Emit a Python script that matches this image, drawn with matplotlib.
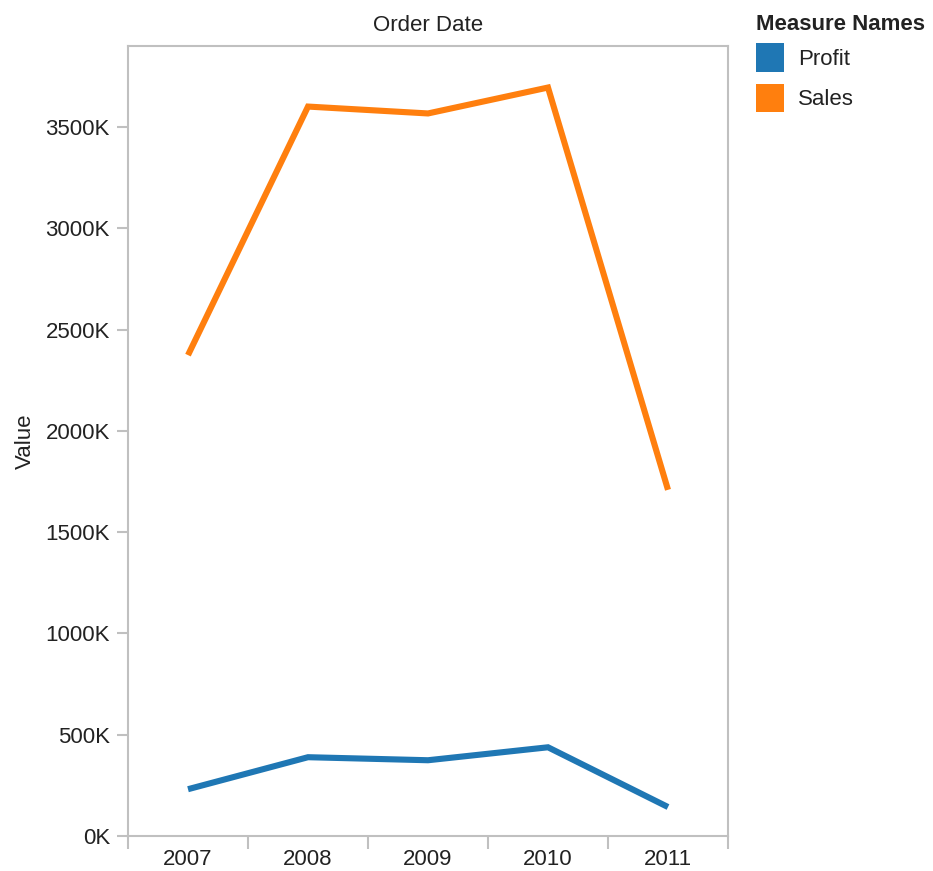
import matplotlib.pyplot as plt
from matplotlib.patches import Patch

plt.rcParams['font.family'] = ['Liberation Sans', 'DejaVu Sans']

years = ['2007', '2008', '2009', '2010', '2011']
sales = [2374, 3601, 3567, 3695, 1709]   # thousands
profit = [231, 389, 374, 438, 143]
yticks = [0, 500, 1000, 1500, 2000, 2500, 3000, 3500]

blue = '#1f77b4'
orange = '#ff7f0e'
grey = '#c0c0c0'
txt = '#222222'
fs = 16
W, H = 933, 871

fig = plt.figure(figsize=(W / 100, H / 100), dpi=100)
ax = fig.add_axes([128 / W, 35 / H, 600 / W, 790 / H])

x = list(range(len(years)))
ax.plot(x, profit, color=blue, lw=4.4, solid_capstyle='butt', solid_joinstyle='miter')
ax.plot(x, sales, color=orange, lw=4.4, solid_capstyle='butt', solid_joinstyle='miter')

ax.set_xlim(-0.5, len(years) - 0.5)
ax.set_ylim(0, 3900)

ax.set_yticks(yticks)
ax.set_yticklabels([f'{v}K' for v in yticks])
ax.set_xticks([i - 0.5 for i in range(len(years) + 1)])
ax.set_xticklabels([])
ax.set_xticks(x, minor=True)
ax.set_xticklabels(years, minor=True)

ax.tick_params(axis='y', length=8, width=1.5, color=grey, labelsize=fs, labelcolor=txt, pad=5)
ax.tick_params(axis='x', which='major', length=9, width=1.5, color=grey)
ax.tick_params(axis='x', which='minor', length=0, labelsize=fs, labelcolor=txt, pad=9)

for s in ax.spines.values():
    s.set_color(grey)
    s.set_linewidth(1.5)

ax.set_ylabel('Value', fontsize=fs, color=txt, labelpad=7)
ax.set_title('Order Date', fontsize=fs, color=txt, pad=11)

# legend: title as separate text, entries below it
fig.text(756 / W, 1 - 24 / H, 'Measure Names', fontsize=fs, fontweight='bold',
         color=txt, ha='left', va='center')
handles = [Patch(facecolor=blue, label='Profit'), Patch(facecolor=orange, label='Sales')]
leg = fig.legend(handles=handles, loc='upper left',
                 bbox_to_anchor=(756 / W, 1 - 43 / H), frameon=False, fontsize=fs,
                 handlelength=1.26, handleheight=1.6, handletextpad=0.63,
                 labelspacing=0.55, borderpad=0, borderaxespad=0)
for t in leg.get_texts():
    t.set_color(txt)

fig.savefig('out.png', dpi=100)
